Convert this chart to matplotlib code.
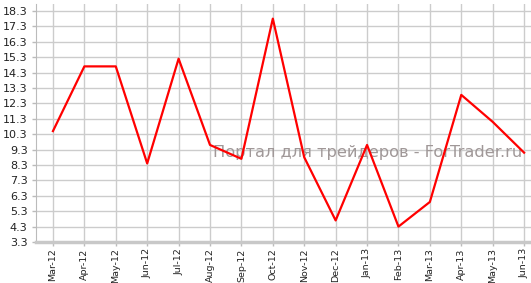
import matplotlib
matplotlib.use("Agg")
import matplotlib.pyplot as plt

# Monthly values
months = ["Mar-12", "Apr-12", "May-12", "Jun-12", "Jul-12", "Aug-12", "Sep-12",
          "Oct-12", "Nov-12", "Dec-12", "Jan-13", "Feb-13", "Mar-13", "Apr-13",
          "May-13", "Jun-13"]
values = [10.5, 14.7, 14.7, 8.4, 15.2, 9.6, 8.7, 17.8, 8.8, 4.7, 9.6, 4.3,
          5.9, 12.85, 11.1, 9.1]
y_ticks = [3.3, 4.3, 5.3, 6.3, 7.3, 8.3, 9.3, 10.3, 11.3, 12.3, 13.3, 14.3,
           15.3, 16.3, 17.3, 18.3]
watermark = "Портал для трейдеров - ForTrader.ru"

fig = plt.figure(figsize=(5.31, 2.83), dpi=100)
ax = fig.add_axes([36 / 531, 1 - 242 / 283, 1 - 36 / 531, 238 / 283])

x = list(range(len(months)))
ax.plot(x, values, color="#ff0000", lw=1.6, zorder=3)

ax.set_xlim(-0.54, len(months) - 1 + 0.22)
ax.set_ylim(3.3, 18.75)
ax.set_xticks(x)
ax.set_xticklabels(months, rotation=90, fontsize=6.8, color="#222222")
ax.set_yticks(y_ticks)
ax.set_yticklabels([f"{v:.1f}" for v in y_ticks], fontsize=8, color="#222222")

ax.grid(True, color="#cccccc", lw=1)
ax.set_axisbelow(True)
for side in ["top", "right"]:
    ax.spines[side].set_visible(False)
ax.spines["left"].set_color("#bbbbbb")
ax.spines["bottom"].set_color("#c8c8c8")
ax.spines["bottom"].set_linewidth(2.5)
ax.tick_params(axis="both", color="#bbbbbb", length=3, width=1)
ax.tick_params(axis="x", pad=1.5)
ax.tick_params(axis="y", pad=3)

ax.text(213 / 531, 1 - 152 / 283, watermark, transform=fig.transFigure,
        fontsize=11.7, color="#a09898", ha="left", va="center", zorder=2)

fig.savefig("out.png", dpi=100)
